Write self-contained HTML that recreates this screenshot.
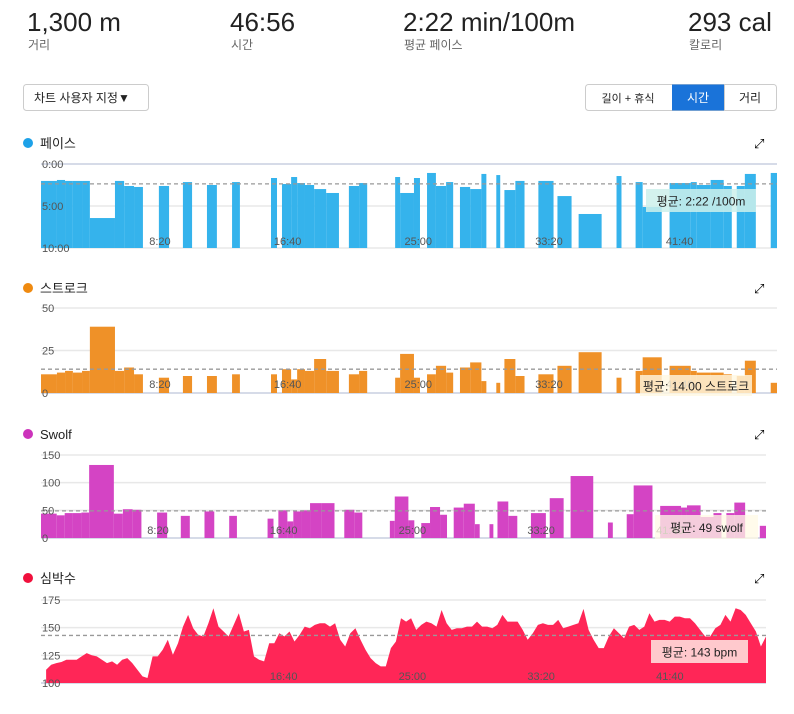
<!DOCTYPE html>
<html><head><meta charset="utf-8"><style>
body{margin:0;background:#fff;width:794px;height:709px;overflow:hidden;font-family:"Liberation Sans","Noto Sans CJK KR",sans-serif;}
svg text{font-family:"Liberation Sans","Noto Sans CJK KR",sans-serif;}
</style></head><body>
<svg id="s" width="794" height="709" xmlns="http://www.w3.org/2000/svg">
<g>
<text x="27" y="31" font-size="26" fill="#222" font-weight="300">1,300 m</text>
<text x="28" y="49" font-size="12" fill="#666">거리</text>
<text x="230" y="31" font-size="26" fill="#222">46:56</text>
<text x="231" y="49" font-size="12" fill="#666">시간</text>
<text x="403" y="31" font-size="26" fill="#222">2:22 min/100m</text>
<text x="404" y="49" font-size="12" fill="#666">평균 페이스</text>
<text x="688" y="31" font-size="26" fill="#222">293 cal</text>
<text x="689" y="49" font-size="12" fill="#666">칼로리</text>
</g>
<g>
<rect x="23.5" y="84.5" width="125" height="26" rx="3" fill="#fff" stroke="#ccc"/>
<text x="34" y="102" font-size="12" fill="#222">차트 사용자 지정▼</text>
</g>
<g>
<rect x="585.5" y="84.5" width="191" height="26" rx="3" fill="#fff" stroke="#ccc"/>
<g><text x="628" y="102" font-size="11" fill="#222" text-anchor="middle">길이 + 휴식</text></g>
<g><rect x="672" y="84.5" width="52" height="26" fill="#1a73d9"/><text x="698" y="102" font-size="12" fill="#fff" text-anchor="middle">시간</text></g>
<line x1="724.5" y1="85" x2="724.5" y2="110" stroke="#ccc"/>
<g><text x="750" y="102" font-size="12" fill="#222" text-anchor="middle">거리</text></g>
</g>
</svg>
<script>
// ---- data ----
const totalSeconds = 2816;
const tickTimes = [500, 1000, 1500, 2000, 2500];
const tickLabels = ["8:20", "16:40", "25:00", "33:20", "41:40"];
const segStart = [0,61,92,122,157,187,283,318,356,451,543,635,731,880,922,957,980,1010,1045,1091,1178,1217,1355,1374,1427,1477,1511,1550,1603,1642,1685,1742,1773,1815,1903,1976,2057,2202,2275,2302,2405,2486,2509,2562,2612,2662,2693,2792];
const segEnd = [61,92,122,157,187,283,318,356,390,490,578,673,761,903,957,980,1010,1045,1091,1140,1217,1248,1374,1427,1450,1511,1550,1577,1642,1685,1704,1757,1815,1850,1961,2030,2145,2221,2302,2375,2486,2509,2562,2612,2643,2693,2735,2816];
const paceValues = [121,114,121,121,121,386,121,157,164,157,129,150,129,100,143,93,136,150,179,207,157,136,93,207,100,64,157,129,164,179,71,79,186,121,121,229,357,86,129,307,136,129,150,114,157,157,71,64];
const strokeValues = [11,12,13,12,13,39,13,15,11,9,10,10,11,11,14,8,14,13,20,13,11,13,9,23,9,11,16,12,15,18,7,6,20,10,11,16,24,9,13,21,16,13,12,12,11,10,19,6];
const swolfValues = [44,41,45,45,46,132,44,52,51,46,40,48,40,35,50,30,48,50,63,63,51,46,31,75,32,27,56,42,55,62,25,25,66,40,45,72,112,28,43,95,58,55,59,38,45,45,64,22];
const hrStartSec = 20;
const hrValues = [112,116.5,118,119,121,121,121,124,127,125,124,121,118,119.5,116.5,121,122.5,118,112,106,104.5,124,124,130,139,125.5,136,151,161.5,149.5,143.5,142,154,167.5,151,146.5,142,152.5,163,146.5,148,124,121,119.5,136,136,145,142,146.5,137.5,143.5,151,149.5,152.5,154,154,151,154,139,133,145,149.5,139,130,122.5,118,115,115,131.5,137.5,158.5,155.5,158.5,148,152.5,155.5,154,151,166,154,148,149.5,149.5,151,151,155.5,151,151,149.5,152.5,161.5,155.5,155.5,155.5,148,139,145,152.5,154,152.5,152.5,157,149.5,151,152.5,154,167,148,139,131.5,131.5,142,149.5,145,140.5,151,152.5,148,151,163,155.5,157,157,155.5,160,160,158.5,158.5,154,148,142,142,149.5,152.5,161.5,155.5,167.5,166,161.5,154,146.5,133,142];
const paceTicks = [0,300,600], paceTickLabels=["0:00","5:00","10:00"];
const strokeTicks=[0,25,50], swolfTicks=[0,50,100,150], hrTicks=[100,125,150,175];
const avgPace=142, avgStroke=14, avgSwolf=49, avgHr=143;

const NS="http://www.w3.org/2000/svg", svg=document.getElementById('s');
function el(tag,attrs,parent){const e=document.createElementNS(NS,tag);for(const k in attrs)e.setAttribute(k,attrs[k]);(parent||svg).appendChild(e);return e;}
function panel(o){
  const g=el('g',{});
  
  
  const x=t=>41+t/totalSeconds*(o.right-41);
  const y=v=>o.y0+(v-o.v0)/(o.v1-o.v0)*(o.y1-o.y0);
  const dot=el('circle',{cx:28,cy:o.ty,r:5,fill:o.color},g);
  
  
  const tt=el('text',{x:40,y:o.ty+5,'font-size':13,fill:'#222'},g);tt.textContent=o.title;
  
  
  const ex=el('text',{x:754,y:o.ty+5,'font-size':13,fill:'#000'},g);ex.textContent='⤢';
  
  
  o.ticks.forEach((v,i)=>{const yy=y(v);
    const gl=el('line',{x1:41,x2:o.right,y1:yy,y2:yy,stroke:i==0&&!o.inv?'#d6dbe8':'#e8e8e8','stroke-width':i==0?2:1.5},g);
    
    });
  o.draw(g,x,y);
  const ay=y(o.avg);
  const al=el('line',{x1:41,x2:o.right,y1:ay,y2:ay,stroke:'#999','stroke-dasharray':'4,3','stroke-width':1.3},g);
  
  
  o.ticks.forEach((v,i)=>{const t=el('text',{x:42,y:y(v)+4,'font-size':11,fill:'#555'},g);t.textContent=o.tickLabels?o.tickLabels[i]:String(v);
    
    });
  tickTimes.forEach((t,i)=>{if(o.skipFirst&&i==0)return;const tx=el('text',{x:x(t)-1,y:o.xly,'font-size':11,fill:'#555','text-anchor':'end'},g);tx.textContent=tickLabels[i];
    
    });
  const bx=el('rect',{x:o.bx[0],y:o.bx[1],width:o.bx[2],height:o.bx[3],fill:o.bfill},g);
  
  
  const bt=el('text',{x:o.bx[0]+o.bx[2]/2,y:o.bx[1]+o.bx[3]/2+5,'font-size':12,fill:'#222','text-anchor':'middle'},g);bt.textContent=o.avgText;
  
  
}
function bars(vals,color,name){return (g,x,y)=>{vals.forEach((v,i)=>{
  const x0=x(segStart[i]),x1=x(segEnd[i]),b=y(name==='pace'?600:0),t=y(v);
  const r=el('rect',{x:x0,y:Math.min(t,b),width:Math.max(1,x1-x0),height:Math.abs(b-t),fill:color},g);
  
  
});};}
panel({name:'pace',title:'페이스',color:'#1da1e8',ty:143,right:777,y0:164,y1:248,v0:0,v1:600,ticks:paceTicks,tickLabels:paceTickLabels,avg:avgPace,xly:245,
  draw:bars(paceValues,'#35b3ec','pace'),bx:[646,189,110,23],bfill:'rgba(205,240,235,0.85)',avgText:'평균: 2:22 /100m'});
panel({name:'stroke',title:'스트로크',color:'#ef8a10',ty:288,right:777,y0:393,y1:308,v0:0,v1:50,ticks:strokeTicks,avg:avgStroke,xly:388,
  draw:bars(strokeValues,'#ef9128','stroke'),bx:[640,375,112,21],bfill:'rgba(255,248,225,0.8)',avgText:'평균: 14.00 스트로크'});
panel({name:'swolf',title:'Swolf',color:'#cc33bb',ty:434,right:766,y0:538,y1:455,v0:0,v1:150,ticks:swolfTicks,avg:avgSwolf,xly:534,
  draw:bars(swolfValues,'#d444c4','swolf'),bx:[655,515,103,24],bfill:'rgba(255,250,228,0.75)',avgText:'평균: 49 swolf'});
panel({name:'heart-rate',title:'심박수',color:'#f0103c',ty:578,right:766,y0:683,y1:600,v0:100,v1:175,ticks:hrTicks,avg:avgHr,xly:680,skipFirst:true,
  draw:(g,x,y)=>{const n=hrValues.length;let d='M'+x(hrStartSec)+','+y(100);
    hrValues.forEach((v,i)=>{d+=' L'+x(hrStartSec+i*(totalSeconds-hrStartSec)/(n-1)).toFixed(1)+','+y(v).toFixed(1);});
    d+=' L'+x(totalSeconds)+','+y(100)+'Z';
    const p=el('path',{d:d,fill:'#ff2657'},g);
    
    },
  bx:[651,640,97,23],bfill:'rgba(255,215,215,0.92)',avgText:'평균: 143 bpm'});
</script>
</body></html>
